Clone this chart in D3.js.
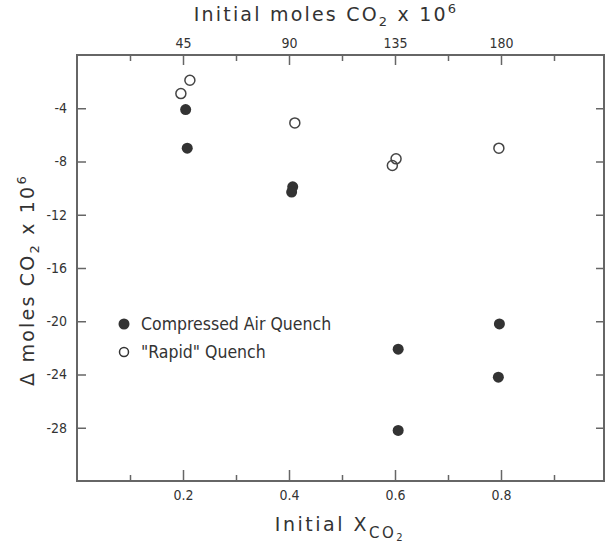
<!DOCTYPE html>
<html>
<head>
<meta charset="utf-8">
<script src="https://cdn.jsdelivr.net/npm/d3@7"></script>
<style>
  body { margin: 0; background: #fff; }
  svg { display: block; }
  .axis path { display: none; }
  .axis line { stroke: #666; stroke-width: 1.5; }
  .axis text { font-family: "Liberation Sans Narrow", "DejaVu Sans Condensed", sans-serif; font-size: 14px; fill: #333; }
</style>
</head>
<body>
<svg width="605" height="546"></svg>
<script>
// 압축공기 급랭 (filled)
const compressedX = [0.205, 0.208, 0.407, 0.405, 0.606, 0.606, 0.797, 0.795];
const compressedY = [-4.1, -7.0, -9.9, -10.3, -22.1, -28.2, -20.2, -24.2];
// "Rapid" 급랭 (open)
const rapidX = [0.196, 0.213, 0.411, 0.595, 0.602, 0.796];
const rapidY = [-2.9, -1.9, -5.1, -8.3, -7.8, -7.0];

const xTicks = [0.2, 0.4, 0.6, 0.8];
const xMinorTicks = [0.1, 0.3, 0.5, 0.7, 0.9];
const topTickLabels = ["45", "90", "135", "180"];
const yTicks = [-4, -8, -12, -16, -20, -24, -28];
const legendLabels = ["Compressed Air Quench", "\"Rapid\" Quench"];

const svg = d3.select("svg");
const frame = { left: 77, right: 604, top: 55, bottom: 481 };

const x = d3.scaleLinear().domain([0, 1]).range([77, 607]);
const y = d3.scaleLinear().domain([0, -32]).range([frame.top, frame.bottom]);

// 프레임
svg.append("rect")
  .attr("x", frame.left).attr("y", frame.top)
  .attr("width", frame.right - frame.left).attr("height", frame.bottom - frame.top)
  .attr("fill", "none").attr("stroke", "#666").attr("stroke-width", 2);

// 아래 축
svg.append("g").attr("class", "axis")
  .attr("transform", `translate(0,${frame.bottom})`)
  .call(d3.axisBottom(x).tickValues(xTicks).tickSize(-11).tickPadding(9).tickFormat(d3.format(".1f")));
svg.append("g").attr("class", "axis")
  .attr("transform", `translate(0,${frame.bottom})`)
  .call(d3.axisBottom(x).tickValues(xMinorTicks).tickSize(-6).tickFormat(""));

// 위 축 (moles = 225 * X)
svg.append("g").attr("class", "axis")
  .attr("transform", `translate(0,${frame.top})`)
  .call(d3.axisTop(x).tickValues(xTicks).tickSize(-10).tickPadding(7)
    .tickFormat((d, i) => topTickLabels[i]));
svg.append("g").attr("class", "axis")
  .attr("transform", `translate(0,${frame.top})`)
  .call(d3.axisTop(x).tickValues(xMinorTicks).tickSize(-6).tickFormat(""));

// 왼쪽, 오른쪽 축 (하이픈 마이너스)
svg.append("g").attr("class", "axis")
  .attr("transform", `translate(${frame.left},0)`)
  .call(d3.axisLeft(y).tickValues(yTicks).tickSize(-9).tickPadding(10).tickFormat((d) => "-" + Math.abs(d)));
svg.append("g").attr("class", "axis")
  .attr("transform", `translate(${frame.right},0)`)
  .call(d3.axisRight(y).tickValues(yTicks).tickSize(-8).tickFormat(""));

// 점 그리기
svg.selectAll(".filled")
  .data(compressedX)
  .enter()
  .append("circle")
  .attr("class", "filled")
  .attr("cx", (d) => x(d))
  .attr("cy", (d, i) => y(compressedY[i]))
  .attr("r", 5.5)
  .attr("fill", "#333");

svg.selectAll(".open")
  .data(rapidX)
  .enter()
  .append("circle")
  .attr("class", "open")
  .attr("cx", (d) => x(d))
  .attr("cy", (d, i) => y(rapidY[i]))
  .attr("r", 5)
  .attr("fill", "none")
  .attr("stroke", "#444")
  .attr("stroke-width", 1.5);

// 범례
const legendFont = "'Liberation Sans Narrow', 'DejaVu Sans Condensed', sans-serif";
const legend = svg.append("g");
legendLabels.forEach((label, i) => {
  const ly = 324 + i * 28;
  legend.append("circle")
    .attr("cx", 124).attr("cy", ly).attr("r", i === 0 ? 5.5 : 4.5)
    .attr("fill", i === 0 ? "#333" : "none")
    .attr("stroke", "#333").attr("stroke-width", i === 0 ? 0 : 1.5);
  legend.append("text")
    .attr("x", 141).attr("y", ly + 6)
    .attr("font-family", legendFont).attr("font-size", "17.5px").attr("fill", "#333")
    .text(label);
});

// 축 제목
const titleFont = "'DejaVu Sans', sans-serif";
const topTitle = svg.append("text")
  .attr("x", 326).attr("y", 21)
  .attr("text-anchor", "middle")
  .attr("font-family", titleFont).attr("font-size", "19px").attr("fill", "#333")
  .attr("letter-spacing", "2.2px");
topTitle.append("tspan").text("Initial  moles  CO");
topTitle.append("tspan").attr("font-size", "13px").attr("dy", 5).text("2");
topTitle.append("tspan").attr("dy", -5).text(" x 10");
topTitle.append("tspan").attr("font-size", "13px").attr("dy", -8).text("6");

const bottomTitle = svg.append("text")
  .attr("x", 340).attr("y", 531)
  .attr("text-anchor", "middle")
  .attr("font-family", titleFont).attr("font-size", "19px").attr("fill", "#333")
  .attr("letter-spacing", "2.5px");
bottomTitle.append("tspan").text("Initial  X");
bottomTitle.append("tspan").attr("font-size", "15px").attr("dy", 7).text("CO");
bottomTitle.append("tspan").attr("font-size", "10px").attr("dy", 3).text("2");

const leftTitle = svg.append("text")
  .attr("transform", "translate(34,280) rotate(-90)")
  .attr("text-anchor", "middle")
  .attr("font-family", titleFont).attr("font-size", "19px").attr("fill", "#333")
  .attr("letter-spacing", "2.2px");
leftTitle.append("tspan").text("\u0394 moles  CO");
leftTitle.append("tspan").attr("font-size", "13px").attr("dy", 5).text("2");
leftTitle.append("tspan").attr("dy", -5).text(" x 10");
leftTitle.append("tspan").attr("font-size", "13px").attr("dy", -8).text("6");
</script>
</body>
</html>
